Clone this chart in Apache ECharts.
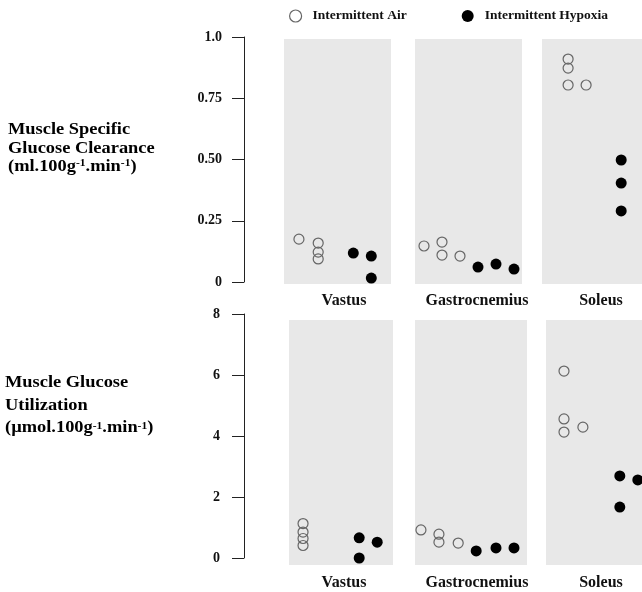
<!DOCTYPE html>
<html>
<head>
<meta charset="utf-8">
<script src="https://cdn.jsdelivr.net/npm/echarts@6/dist/echarts.min.js"></script>
<style>
  html, body { margin: 0; padding: 0; background: #fff; }
  #chart { width: 642px; height: 592px; }
</style>
</head>
<body>
<div id="chart"></div>
<script>
// Muscle groups shown in each row
const muscles = ['Vastus', 'Gastrocnemius', 'Soleus'];
const groups = ['Intermittent Air', 'Intermittent Hypoxia'];

// Muscle specific glucose clearance (ml.100g-1.min-1), one list per muscle
const clearanceAir = [
  [0.175, 0.159, 0.122, 0.094],
  [0.147, 0.163, 0.110, 0.106],
  [0.910, 0.873, 0.804, 0.804]
];
const clearanceHypoxia = [
  [0.118, 0.106, 0.016],
  [0.061, 0.073, 0.053],
  [0.498, 0.404, 0.290]
];
// Dot columns (horizontal slot of each dot inside its muscle panel)
const clearanceAirCol = [
  [0.83, 1.9, 1.9, 1.9],
  [0.5, 1.5, 1.5, 2.5],
  [1.45, 1.45, 1.45, 2.45]
];
const clearanceHypoxiaCol = [
  [3.85, 4.85, 4.85],
  [3.5, 4.5, 5.5],
  [4.4, 4.4, 4.4]
];

// Muscle glucose utilization (umol.100g-1.min-1)
const utilAir = [
  [1.13, 0.85, 0.64, 0.41],
  [0.92, 0.78, 0.52, 0.49],
  [6.13, 4.56, 4.13, 4.29]
];
const utilHypoxia = [
  [0.66, 0.00, 0.52],
  [0.23, 0.33, 0.33],
  [2.69, 1.67, 2.56]
];
const utilAirCol = [
  [0.78, 0.78, 0.78, 0.78],
  [0.33, 1.33, 1.33, 2.4],
  [1.0, 1.0, 1.0, 2.05]
];
const utilHypoxiaCol = [
  [3.9, 3.9, 4.9],
  [3.4, 4.5, 5.5],
  [4.1, 4.1, 5.1]
];

// Y axis tick labels
const clearanceTicks = ['0', '0.25', '0.50', '0.75', '1.0'];
const utilTicks = ['0', '2', '4', '6', '8'];

// ---- layout ----
const FONT = 'Liberation Serif';
const PX_PER_SLOT = 18;
const rows = [
  {
    axisTop: 37, axisBottom: 282, max: 1, interval: 0.25, ticks: clearanceTicks, labelMargin: 22,
    panelTop: 39, panelBottom: 284,
    panels: [{ left: 284, width: 107 }, { left: 415, width: 107 }, { left: 542, width: 100 }],
    air: clearanceAir, hyp: clearanceHypoxia, airCol: clearanceAirCol, hypCol: clearanceHypoxiaCol,
    labelY: 301
  },
  {
    axisTop: 314, axisBottom: 558, max: 8, interval: 2, ticks: utilTicks, labelMargin: 24,
    panelTop: 320, panelBottom: 565,
    panels: [{ left: 289, width: 104 }, { left: 415, width: 112 }, { left: 546, width: 96 }],
    air: utilAir, hyp: utilHypoxia, airCol: utilAirCol, hypCol: utilHypoxiaCol,
    labelY: 583
  }
];
const labelCenters = [344, 477, 601];

const grid = [], xAxis = [], yAxis = [], series = [], graphic = [];

rows.forEach((row, r) => {
  const unitPx = (row.axisBottom - row.axisTop) / row.max;
  const yMaxPanel = (row.axisBottom - row.panelTop) / unitPx;
  const yMinPanel = (row.axisBottom - row.panelBottom) / unitPx;

  row.panels.forEach((p, m) => {
    const gi = grid.length;
    grid.push({
      left: p.left, top: row.panelTop, width: p.width, height: row.panelBottom - row.panelTop,
      show: true, backgroundColor: '#e8e8e8', borderWidth: 0
    });
    xAxis.push({ type: 'value', gridIndex: gi, min: 0, max: p.width / PX_PER_SLOT, show: false });
    yAxis.push({ type: 'value', gridIndex: gi, min: yMinPanel, max: yMaxPanel, show: false });

    const airData = row.air[m].map((v, i) => [row.airCol[m][i], v]);
    const hypData = row.hyp[m].map((v, i) => [row.hypCol[m][i], v]);
    series.push({
      type: 'scatter', name: groups[0], xAxisIndex: gi, yAxisIndex: gi,
      data: airData, symbol: 'circle', symbolSize: 10, silent: true,
      itemStyle: { color: 'rgba(255,255,255,0)', borderColor: '#666', borderWidth: 1.2, opacity: 1 }
    });
    series.push({
      type: 'scatter', name: groups[1], xAxisIndex: gi, yAxisIndex: gi,
      data: hypData, symbol: 'circle', symbolSize: 11, silent: true,
      itemStyle: { color: '#000', opacity: 1 }
    });

    graphic.push({
      type: 'text', x: labelCenters[m], y: row.labelY, silent: true,
      style: {
        text: muscles[m], fontFamily: FONT, fontWeight: 'bold', fontSize: 16, fill: '#111',
        align: 'center', verticalAlign: 'middle'
      }
    });
  });

  // stand-alone value axis to the left of each row
  const gi = grid.length;
  grid.push({ left: 244, top: row.axisTop, width: 1, height: row.axisBottom - row.axisTop });
  xAxis.push({ type: 'value', gridIndex: gi, show: false, min: 0, max: 1 });
  yAxis.push({
    type: 'value', gridIndex: gi, min: 0, max: row.max, interval: row.interval, position: 'left',
    axisLine: { show: true, lineStyle: { color: '#222', width: 1 } },
    axisTick: { show: true, inside: false, length: 12, lineStyle: { color: '#222', width: 1 } },
    splitLine: { show: false },
    axisLabel: {
      margin: row.labelMargin, fontFamily: FONT, fontWeight: 'bold', fontSize: 14, color: '#111',
      formatter: v => row.ticks[Math.round(v / row.interval)]
    }
  });
});

function titleRich(lh) {
  return {
    t: { fontFamily: FONT, fontWeight: 'bold', fontSize: 16, color: '#111', lineHeight: lh },
    sup: { fontFamily: FONT, fontWeight: 'bold', fontSize: 10, color: '#111', lineHeight: lh,
           verticalAlign: 'bottom', padding: [0, 0, 8, 0] }
  };
}

graphic.push({
  type: 'text', x: 8, y: 121, scaleX: 1.15, silent: true,
  style: {
    text: '{t|Muscle Specific}\n{t|Glucose Clearance}\n{t|(ml.100g}{sup|-1}{t|.min}{sup|-1}{t|)}',
    rich: titleRich(18.5)
  }
});
graphic.push({
  type: 'text', x: 5, y: 372, scaleX: 1.15, silent: true,
  style: {
    text: '{t|Muscle Glucose}\n{t|Utilization}\n{t|(\u00b5mol.100g}{sup|-1}{t|.min}{sup|-1}{t|)}',
    rich: titleRich(22.5)
  }
});

const chart = echarts.init(document.getElementById('chart'), null, { renderer: 'canvas' });
chart.setOption({
  animation: false,
  backgroundColor: '#fff',
  legend: {
    left: 289, top: 9, padding: 0, itemWidth: 12, itemHeight: 12, itemGap: 55,
    selectedMode: false,
    textStyle: { fontFamily: FONT, fontWeight: 'bold', fontSize: 13.5, color: '#111', padding: [0, 0, 0, 6] },
    data: [
      { name: groups[0], icon: 'circle', itemStyle: { color: 'rgba(255,255,255,0)', borderColor: '#666', borderWidth: 1.2 } },
      { name: groups[1], icon: 'circle', itemStyle: { color: '#000' } }
    ]
  },
  grid, xAxis, yAxis, series, graphic
});
</script>
</body>
</html>
